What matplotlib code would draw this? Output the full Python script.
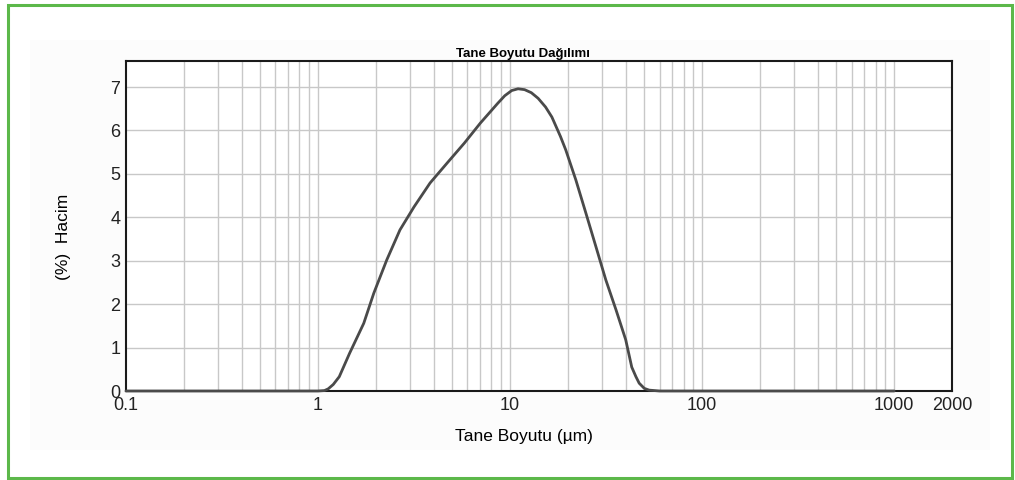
import numpy as np
import matplotlib
matplotlib.use("Agg")
import matplotlib.pyplot as plt
from matplotlib.patches import Rectangle

plt.rcParams['font.family'] = ['Liberation Sans', 'DejaVu Sans']

# particle size (um) and volume (%)
size_um = [0.1, 0.5, 1.0, 1.08, 1.13, 1.2, 1.29, 1.46, 1.73, 1.95, 2.28, 2.67,
           3.16, 3.83, 4.7, 5.78, 7.0, 8.6, 9.38, 10.2, 11.0, 11.9, 12.9, 14.0,
           15.3, 16.5, 17.2, 18.3, 19.5, 22.0, 24.8, 28.0, 31.5, 35.6, 40.0,
           43.0, 45.2, 47.0, 50.0, 53.0, 60.0, 100.0, 1000.0]
volume_pct = [0.0, 0.0, 0.0, 0.01, 0.05, 0.15, 0.33, 0.87, 1.56, 2.25, 3.02, 3.71,
              4.24, 4.79, 5.25, 5.71, 6.17, 6.62, 6.80, 6.92, 6.96, 6.94, 6.87, 6.74,
              6.54, 6.31, 6.13, 5.86, 5.55, 4.86, 4.1, 3.32, 2.56, 1.87, 1.18,
              0.55, 0.33, 0.18, 0.06, 0.02, 0.0, 0.0, 0.0]

xticks = [0.1, 1, 10, 100, 1000, 2000]
xticklabels = ['0.1', '1', '10', '100', '1000', '2000']
yticks = [0, 1, 2, 3, 4, 5, 6, 7]

fig = plt.figure(figsize=(10.15, 4.8), dpi=100)

# faint panel + green frame
fig.patches.append(Rectangle((30 / 1015, 30 / 480), 960 / 1015, 410 / 480,
                             transform=fig.transFigure, facecolor='#fcfcfc',
                             edgecolor='none', zorder=-2))
fig.patches.append(Rectangle((8 / 1015, 2 / 480), 1004 / 1015, 473 / 480,
                             transform=fig.transFigure, facecolor='none',
                             edgecolor='#5cb84a', linewidth=2.2, zorder=-1))

ax = fig.add_axes([126 / 1015, 89 / 480, 826 / 1015, 330 / 480])
ax.set_zorder(2)
ax.set_facecolor('white')
ax.set_xscale('log')
ax.set_xlim(0.1, 2000)
ax.set_ylim(0, 7.6)

# grid lines (decades 0.1 .. 1000, minor steps)
for dec in [0.1, 1, 10, 100]:
    for k in range(2, 11):
        ax.axvline(dec * k, color='#c8c8c8', linewidth=1.0, zorder=1)
for yv in yticks[1:]:
    ax.axhline(yv, color='#c8c8c8', linewidth=1.0, zorder=1)

ax.plot(size_um, volume_pct, color='#4a4a4a', linewidth=2.0,
        solid_joinstyle='round', solid_capstyle='round', zorder=3, clip_on=False)

ax.set_xticks(xticks)
ax.set_xticklabels(xticklabels)
ax.xaxis.set_minor_locator(matplotlib.ticker.NullLocator())
ax.set_yticks(yticks)
ax.tick_params(axis='both', length=0, labelsize=13, colors='#222222')
ax.tick_params(axis='x', pad=4)
ax.tick_params(axis='y', pad=4)

for sp in ax.spines.values():
    sp.set_color('#1a1a1a')
    sp.set_linewidth(1.5)

ax.set_title('Tane Boyutu Dağılımı', fontsize=9.5, fontweight='bold', pad=3,
             x=0.481)
ax.set_xlabel('Tane Boyutu (µm)', fontsize=12.5)
ax.xaxis.set_label_coords(0.482, -0.115)
ax.set_ylabel('(%)  Hacim', fontsize=12.5)
ax.yaxis.set_label_coords(-0.067, 0.467)

fig.savefig('out.png', dpi=100)
